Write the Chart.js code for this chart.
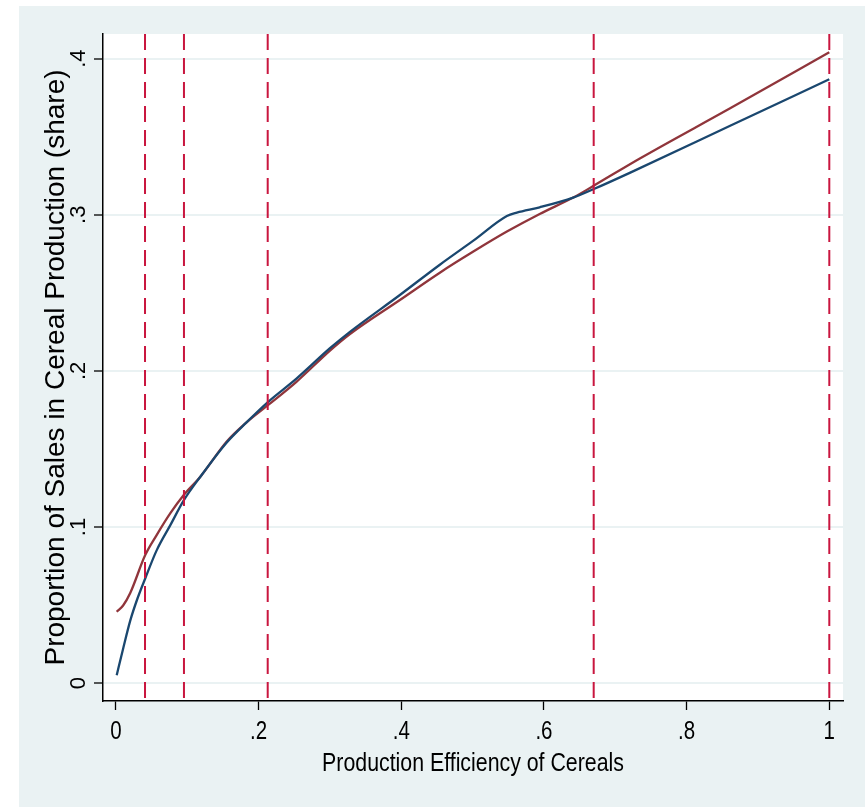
<!DOCTYPE html>
<html lang="en">
<head>
<meta charset="utf-8">
<script src="https://cdn.jsdelivr.net/npm/chart.js@4/dist/chart.umd.min.js"></script>
<style>
  html, body { margin: 0; padding: 0; background: #fff; }
  #wrap { width: 865px; height: 807px; }
</style>
</head>
<body>
<div id="wrap"><canvas id="chart" width="865" height="807"></canvas></div>
<script>
// axis ticks
const xTicks = [0, 0.2, 0.4, 0.6, 0.8, 1];
const xTickLabels = ['0', '.2', '.4', '.6', '.8', '1'];
const yTicks = [0, 0.1, 0.2, 0.3, 0.4];
const yTickLabels = ['0', '.1', '.2', '.3', '.4'];
const xRange = [-0.0182, 1.0192];
const yRange = [-0.0115, 0.4158];

// vertical dashed cut-offs
const cutoffs = [0.0407, 0.0953, 0.2127, 0.6697, 1.0];

// blue curve
const blueX = [0.001, 0.01, 0.02, 0.03, 0.041, 0.057, 0.076, 0.095, 0.118, 0.155, 0.183, 0.213, 0.253, 0.3, 0.328, 0.398, 0.454, 0.501, 0.548, 0.562, 0.594, 0.641, 0.669, 0.721, 0.861, 1.0];
const blueY = [0.005, 0.022, 0.040, 0.054, 0.067, 0.085, 0.101, 0.117, 0.132, 0.154, 0.167, 0.180, 0.195, 0.2145, 0.225, 0.2486, 0.268, 0.2834, 0.2992, 0.3014, 0.3048, 0.311, 0.3163, 0.327, 0.357, 0.3868];

// red curve
const redX = [0.001, 0.010, 0.02, 0.041, 0.057, 0.076, 0.095, 0.118, 0.155, 0.183, 0.213, 0.253, 0.3, 0.328, 0.398, 0.454, 0.501, 0.548, 0.594, 0.641, 0.669, 0.735, 0.861, 1.0];
const redY = [0.0457, 0.0497, 0.0577, 0.082, 0.0948, 0.1087, 0.1205, 0.132, 0.1546, 0.167, 0.178, 0.193, 0.213, 0.2236, 0.2454, 0.2629, 0.2764, 0.2892, 0.3005, 0.311, 0.3184, 0.3362, 0.3682, 0.4041];

const xTitle = 'Production Efficiency of Cereals';
const yTitle = 'Proportion of Sales in Cereal Production (share)';

const regular = "'Liberation Sans', Arial, sans-serif";

const toPoints = (xs, ys) => xs.map((x, i) => ({ x: x, y: ys[i] }));

// grey outer box + white plot region
const bgPlugin = {
  id: 'bg',
  beforeDraw(chart) {
    const { ctx, chartArea: a } = chart;
    ctx.save();
    ctx.fillStyle = '#eaf2f3';
    ctx.fillRect(19, 6, chart.width - 19, chart.height - 6);
    ctx.fillStyle = '#ffffff';
    ctx.fillRect(a.left, a.top, a.right - a.left, a.bottom - a.top);
    ctx.restore();
  }
};

// x labels and title in a narrow (horizontally squeezed) face, like the Stata export
function narrowText(ctx, text, x, y, size) {
  ctx.save();
  ctx.font = size + 'px ' + regular;
  ctx.translate(x, y);
  ctx.scale(0.82, 1);
  ctx.fillText(text, 0, 0);
  ctx.restore();
}
const xTextPlugin = {
  id: 'xText',
  afterDraw(chart) {
    const s = chart.scales.x;
    const ctx = chart.ctx;
    ctx.save();
    ctx.fillStyle = '#000';
    ctx.textAlign = 'center';
    ctx.textBaseline = 'alphabetic';
    xTicks.forEach((v, i) => narrowText(ctx, xTickLabels[i], s.getPixelForValue(v), s.top + 38, 25));
    narrowText(ctx, xTitle, (chart.chartArea.left + chart.chartArea.right) / 2, s.top + 70, 26);
    ctx.restore();
  }
};

const datasets = cutoffs.map(c => ({
  data: [{ x: c, y: yRange[1] }, { x: c, y: yRange[0] }],
  borderColor: '#c9163f',
  borderWidth: 2,
  borderDash: [16, 8],
  pointRadius: 0,
  order: 0
}));
datasets.push({
  data: toPoints(blueX, blueY),
  borderColor: '#1a476f',
  borderWidth: 2.3,
  pointRadius: 0,
  cubicInterpolationMode: 'monotone',
  order: 1
});
datasets.push({
  data: toPoints(redX, redY),
  borderColor: '#90353b',
  borderWidth: 2.3,
  pointRadius: 0,
  cubicInterpolationMode: 'monotone',
  order: 1
});

new Chart(document.getElementById('chart'), {
  type: 'line',
  data: { datasets: datasets },
  plugins: [bgPlugin, xTextPlugin],
  options: {
    responsive: false,
    animation: false,
    layout: { padding: { top: 34, right: 22, bottom: 0, left: 0 } },
    plugins: { legend: { display: false }, tooltip: { enabled: false } },
    scales: {
      x: {
        type: 'linear',
        min: xRange[0],
        max: xRange[1],
        afterBuildTicks: s => { s.ticks = xTicks.map(v => ({ value: v })); },
        afterFit: s => { s.height = 106; },
        ticks: { display: false, autoSkip: false },
        grid: { drawOnChartArea: false, tickLength: 9, tickColor: '#000', tickWidth: 1.3 },
        border: { color: '#000', width: 1.5 },
        title: { display: false }
      },
      y: {
        type: 'linear',
        min: yRange[0],
        max: yRange[1],
        afterBuildTicks: s => { s.ticks = yTicks.map(v => ({ value: v })); },
        afterFit: s => { s.width = 103; },
        ticks: {
          callback: (v, i) => yTickLabels[i],
          font: { family: regular, size: 22 },
          color: '#000',
          padding: 6,
          minRotation: 90,
          maxRotation: 90,
          crossAlign: 'center'
        },
        grid: { color: '#eaf2f3', lineWidth: 2, tickLength: 9, tickColor: '#000', tickWidth: 1.3 },
        border: { color: '#000', width: 1.5 },
        title: {
          display: true,
          text: yTitle,
          font: { family: regular, size: 28 },
          color: '#000',
          padding: { top: 39, bottom: 0 }
        }
      }
    }
  }
});
</script>
</body>
</html>
